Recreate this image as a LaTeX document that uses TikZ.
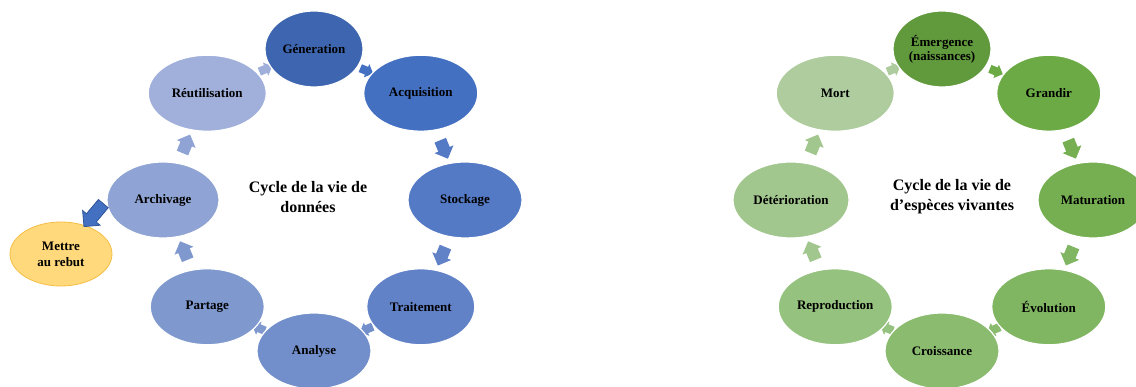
\documentclass[tikz,border=0pt]{standalone}
\usepackage{fontspec}
\setmainfont{Liberation Serif}
\usetikzlibrary{shapes.geometric,shapes.arrows,backgrounds}

\definecolor{bleu1}{HTML}{3E66B0}
\definecolor{bleu2}{HTML}{4470C2}
\definecolor{bleu3}{HTML}{5479C5}
\definecolor{bleu4}{HTML}{6282C8}
\definecolor{bleu5}{HTML}{728FCB}
\definecolor{bleu6}{HTML}{7F99CF}
\definecolor{bleu7}{HTML}{8FA4D4}
\definecolor{bleu8}{HTML}{A0B0DA}
\definecolor{vert1}{HTML}{61993D}
\definecolor{vert2}{HTML}{6CAA46}
\definecolor{vert3}{HTML}{75AF52}
\definecolor{vert4}{HTML}{80B562}
\definecolor{vert5}{HTML}{8ABB6F}
\definecolor{vert6}{HTML}{96C27F}
\definecolor{vert7}{HTML}{A2C78E}
\definecolor{vert8}{HTML}{AECC9E}
\definecolor{rebutfond}{HTML}{FFD97C}
\definecolor{rebutbord}{HTML}{F5BE45}
\definecolor{flechebord}{HTML}{2F5597}

\begin{document}
\begin{tikzpicture}[x=1pt, y=1pt,
        etape/.style={ellipse, draw=white, line width=1.2pt, minimum width=114pt,
            minimum height=76pt, inner sep=0pt, align=center,
            font=\fontsize{13}{14}\selectfont\bfseries},
        titre/.style={align=center, font=\fontsize{16}{20}\selectfont\bfseries},
        fleche/.style={single arrow, draw=none, minimum height=20pt, minimum width=20pt,
            single arrow head extend=4pt, inner sep=6pt, midway, sloped, allow upside down},
        petite/.style={minimum height=14pt, minimum width=14pt, inner sep=4pt,
            single arrow head extend=3pt}]
    \clip (0,0) rectangle (1136,387);

    % cycle de la vie de donnees
    \begin{scope}[shift={(314,187)}]
        \node[etape, fill=bleu1, minimum width=98pt] (gen) at ( 90:151) {Géneration};
        \node[etape, fill=bleu2] (acq) at ( 45:151) {Acquisition};
        \node[etape, fill=bleu3] (sto) at (  0:151) {Stockage};
        \node[etape, fill=bleu4, minimum width=108pt] (tra) at (-45:151) {Traitement};
        \node[etape, fill=bleu5] (ana) at (-90:151) {Analyse};
        \node[etape, fill=bleu6] (par) at (225:151) {Partage};
        \node[etape, fill=bleu7, minimum width=112pt] (arc) at (180:151) {Archivage};
        \node[etape, fill=bleu8, minimum width=118pt] (reu) at (135:151) {Réutilisation};
        \node[titre] (tdon) at (-6,3) {Cycle de la vie de\\données};
    \end{scope}
    \node[etape, fill=rebutfond, draw=rebutbord, line width=0.8pt, minimum width=102pt,
        minimum height=64pt, font=\fontsize{13}{16}\selectfont\bfseries] (reb) at (61,133) {Mettre\\au rebut};

    % cycle de la vie d'especes vivantes
    \begin{scope}[shift={(942,187)}]
        \node[etape, fill=vert1, minimum width=98pt] (eme) at ( 90:151) {Émergence\\(naissances)};
        \node[etape, fill=vert2, minimum width=104pt] (gra) at ( 45:151) {Grandir};
        \node[etape, fill=vert3, minimum width=110pt] (mat) at (  0:151) {Maturation};
        \node[etape, fill=vert4] (evo) at (-45:151) {Évolution};
        \node[etape, fill=vert5] (cro) at (-90:151) {Croissance};
        \node[etape, fill=vert6] (rep) at (225:151) {Reproduction};
        \node[etape, fill=vert7, minimum width=116pt] (det) at (180:151) {Détérioration};
        \node[etape, fill=vert8, minimum width=118pt] (mor) at (135:151) {Mort};
        \node[titre] (tesp) at (10,3) {Cycle de la vie de\\d’espèces vivantes};
    \end{scope}

    \begin{scope}[on background layer]
        \path (gen) -- (acq) node[fleche, petite, fill=bleu2] {};
        \path (acq) -- (sto) node[fleche, fill=bleu3] {};
        \path (sto) -- (tra) node[fleche, fill=bleu4] {};
        \path (tra) -- (ana) node[fleche, petite, fill=bleu5] {};
        \path (ana) -- (par) node[fleche, petite, fill=bleu6] {};
        \path (par) -- (arc) node[fleche, fill=bleu6] {};
        \path (arc) -- (reu) node[fleche, fill=bleu7] {};
        \path (reu) -- (gen) node[fleche, petite, fill=bleu8] {};

        \path (eme) -- (gra) node[fleche, petite, fill=vert2] {};
        \path (gra) -- (mat) node[fleche, fill=vert3] {};
        \path (mat) -- (evo) node[fleche, fill=vert4] {};
        \path (evo) -- (cro) node[fleche, petite, fill=vert5] {};
        \path (cro) -- (rep) node[fleche, petite, fill=vert6] {};
        \path (rep) -- (det) node[fleche, fill=vert7] {};
        \path (det) -- (mor) node[fleche, fill=vert7] {};
        \path (mor) -- (eme) node[fleche, petite, fill=vert8] {};
    \end{scope}

    \path (arc.west) -- (reb.50) node[fleche, fill=bleu2, draw=flechebord, line width=0.8pt,
        minimum height=30pt, minimum width=22pt, single arrow head extend=5pt] {};
\end{tikzpicture}
\end{document}
